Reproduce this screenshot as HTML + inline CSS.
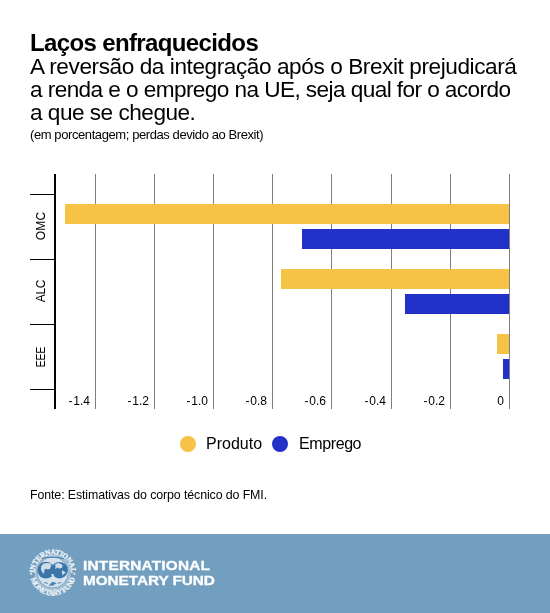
<!DOCTYPE html>
<html><head><meta charset="utf-8">
<style>
html,body{margin:0;padding:0;}
.abs,.xl,.cat,.lt,.imf{will-change:transform;}
body{width:550px;height:613px;position:relative;overflow:hidden;background:#fff;font-family:"Liberation Sans",sans-serif;color:#000;}
.abs{position:absolute;white-space:nowrap;}
#title{left:30px;top:28.3px;font-size:24px;font-weight:bold;line-height:30px;letter-spacing:-0.63px;}
.sub{left:30px;font-size:22.6px;line-height:23px;letter-spacing:-0.42px;}
#note{left:30px;top:128px;font-size:13px;line-height:14px;letter-spacing:-0.41px;}
.grid{position:absolute;top:174px;height:235px;width:1px;background:#7f7f7f;}
.bar{position:absolute;height:20px;}
.y{background:#f6c346;}
.b{background:#2232c8;}
.xl{position:absolute;top:394px;font-size:12px;line-height:14px;color:#000;text-align:right;width:40px;margin-left:0.4px;}
.cat{position:absolute;font-size:12px;line-height:14px;transform:rotate(-90deg);transform-origin:center center;width:60px;text-align:center;}
.tick{position:absolute;left:30px;width:25px;height:1px;background:#000;}
#legend .dot{position:absolute;width:16px;height:16px;border-radius:50%;top:436px;}
.lt{position:absolute;top:434px;font-size:16px;line-height:20px;transform-origin:0 0;}
#src{left:30px;top:487.6px;font-size:12.4px;line-height:14px;letter-spacing:-0.11px;}
#footer{position:absolute;left:0;top:534px;width:550px;height:79px;background:#729fc0;}
.imf{position:absolute;left:83px;color:#fff;font-weight:bold;font-size:13px;line-height:14px;transform-origin:0 0;transform:scaleX(1.18);-webkit-text-stroke:0.3px #fff;}
</style></head><body>
<div id="title" class="abs">Laços enfraquecidos</div>
<div class="abs sub" style="top:54.6px">A reversão da integração após o Brexit prejudicará</div>
<div class="abs sub" style="top:77.9px;letter-spacing:-0.575px">a renda e o emprego na UE, seja qual for o acordo</div>
<div class="abs sub" style="top:100.7px;letter-spacing:-0.5px">a que se chegue.</div>
<div id="note" class="abs">(em porcentagem; perdas devido ao Brexit)</div>

<!-- gridlines -->
<div class="grid" style="left:95px"></div>
<div class="grid" style="left:154px"></div>
<div class="grid" style="left:213px"></div>
<div class="grid" style="left:272px"></div>
<div class="grid" style="left:331px"></div>
<div class="grid" style="left:391px"></div>
<div class="grid" style="left:450px"></div>

<!-- bars -->
<div class="bar y" style="left:65px;top:204px;width:444px"></div>
<div class="bar b" style="left:302px;top:229px;width:207px"></div>
<div class="bar y" style="left:281px;top:269px;width:228px"></div>
<div class="bar b" style="left:405px;top:294px;width:104px"></div>
<div class="bar y" style="left:497px;top:334px;width:12px"></div>
<div class="bar b" style="left:503px;top:359px;width:6px"></div>
<div class="grid" style="left:509px"></div>

<!-- axis -->
<div style="position:absolute;left:54px;top:174px;width:2px;height:235px;background:#000"></div>
<div class="tick" style="top:194px"></div>
<div class="tick" style="top:259px"></div>
<div class="tick" style="top:324px"></div>
<div class="tick" style="top:389px"></div>

<div class="cat" style="left:11px;top:218.85px;letter-spacing:0.25px">OMC</div>
<div class="cat" style="left:11px;top:283.6px;letter-spacing:-0.3px">ALC</div>
<div class="cat" style="left:11px;top:349.5px;transform:rotate(-90deg) scaleX(0.86)">EEE</div>

<div class="xl" style="left:50px"><span style="letter-spacing:0.9px">-</span>1.4</div>
<div class="xl" style="left:109px"><span style="letter-spacing:0.9px">-</span>1.2</div>
<div class="xl" style="left:168px"><span style="letter-spacing:0.9px">-</span>1.0</div>
<div class="xl" style="left:227px"><span style="letter-spacing:0.9px">-</span>0.8</div>
<div class="xl" style="left:286px"><span style="letter-spacing:0.9px">-</span>0.6</div>
<div class="xl" style="left:346px"><span style="letter-spacing:0.9px">-</span>0.4</div>
<div class="xl" style="left:405px"><span style="letter-spacing:0.9px">-</span>0.2</div>
<div class="xl" style="left:464px">0</div>

<div id="legend">
<div class="dot y" style="left:180px"></div>
<div class="lt" style="left:206px">Produto</div>
<div class="dot b" style="left:272px"></div>
<div class="lt" style="left:298.5px;letter-spacing:-0.4px">Emprego</div>
</div>

<div id="src" class="abs">Fonte: Estimativas do corpo técnico do FMI.</div>

<div id="footer">
<svg style="position:absolute;left:26px;top:10px" width="54" height="54" viewBox="26 544 54 54">
<defs>
<path id="arcT" d="M 34.6 572.5 A 18.2 18.2 0 0 1 71 572.5"/>
<path id="arcB" d="M 29.8 572.5 A 23 23 0 0 0 75.8 572.5"/>
</defs>
<circle cx="52.8" cy="572.5" r="17.3" fill="none" stroke="#dfe8f0" stroke-width="0.8"/>
<circle cx="52.8" cy="572.5" r="16.2" fill="#d5e1eb"/>
<circle cx="52.8" cy="572.5" r="15.6" fill="none" stroke="#5588b5" stroke-width="0.7"/>
<path d="M 41.5 558.6 Q 52.8 555.8 64.1 558.6" fill="none" stroke="#4a82b0" stroke-width="1.1"/>
<circle cx="45.9" cy="570.2" r="8.4" fill="#3b76aa"/>
<circle cx="59.5" cy="570.2" r="8.3" fill="#3b76aa"/>
<path d="M 41.2 566 L 43.5 563.4 L 47.5 563 L 50.8 563.6 L 51 566 L 50 568.8 L 47.8 569.6 L 45.8 568.4 L 44.4 570.6 L 43.8 574 L 42 572 L 40.9 569.2 Z" fill="#cfdde9"/>
<path d="M 51 574.3 L 53.5 574 L 54 576.3 L 52.2 577 Z" fill="#cfdde9"/>
<path d="M 55.2 564.2 L 58 563 L 61 563.7 L 62.8 566 L 61.6 568 L 59 568.4 L 57 567.6 L 55.6 569.5 Z" fill="#cfdde9"/>
<path d="M 61.8 570.2 L 65.8 572.3 L 62.3 575.5 Z" fill="#cfdde9"/>
<path d="M 44 582.6 L 48 583.3 M 57.5 583.3 L 61.5 582.6" stroke="#4a82b0" stroke-width="0.9"/>
<path d="M 48.5 585.5 L 52.5 581.8 L 56.5 583 L 53 585.8 Z" fill="#4a82b0"/>
<text font-family="Liberation Serif" font-weight="bold" font-size="7.2" fill="#eef3f7" stroke="#eef3f7" stroke-width="0.3" letter-spacing="-0.3"><textPath href="#arcT" startOffset="50%" text-anchor="middle">INTERNATIONAL</textPath></text>
<text font-family="Liberation Serif" font-weight="bold" font-size="7.2" fill="#eef3f7" stroke="#eef3f7" stroke-width="0.3" letter-spacing="-0.3"><textPath href="#arcB" startOffset="50%" text-anchor="middle">MONETARY FUND</textPath></text>
<circle cx="31.2" cy="573.8" r="1" fill="#eef3f7"/>
<circle cx="74.3" cy="573.8" r="1" fill="#eef3f7"/>
</svg>
<div class="imf" style="top:25px;letter-spacing:0.2px">INTERNATIONAL</div>
<div class="imf" style="top:40px;letter-spacing:-0.05px">MONETARY FUND</div>
</div>
</body></html>
